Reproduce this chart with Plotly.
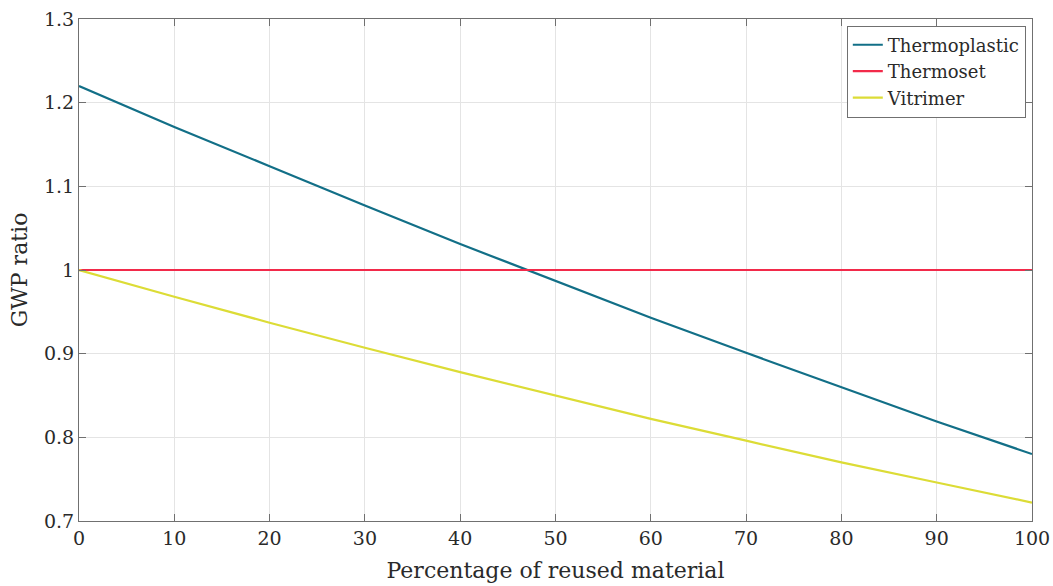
import plotly.graph_objects as go

reuse_pct = [0, 10, 20, 30, 40, 50, 60, 70, 80, 90, 100]
thermoplastic = [1.22, 1.171, 1.124, 1.077, 1.031, 0.987, 0.943, 0.901, 0.860, 0.819, 0.780]
thermoset = [1.0, 1.0, 1.0, 1.0, 1.0, 1.0, 1.0, 1.0, 1.0, 1.0, 1.0]
vitrimer = [1.0, 0.968, 0.937, 0.907, 0.878, 0.850, 0.822, 0.796, 0.770, 0.746, 0.722]

x_ticks = [0, 10, 20, 30, 40, 50, 60, 70, 80, 90, 100]
y_ticks = [0.7, 0.8, 0.9, 1.0, 1.1, 1.2, 1.3]
y_tick_text = ["0.7", "0.8", "0.9", "1", "1.1", "1.2", "1.3"]

FONT = "DejaVu Serif"
TXT = "#2a2a2a"
fig = go.Figure()
fig.add_trace(go.Scatter(x=reuse_pct, y=thermoplastic, mode="lines", name="Thermoplastic",
                         line=dict(color="#126f87", width=2.2)))
fig.add_trace(go.Scatter(x=reuse_pct, y=thermoset, mode="lines", name="Thermoset",
                         line=dict(color="#f22a4a", width=2.2)))
fig.add_trace(go.Scatter(x=reuse_pct, y=vitrimer, mode="lines", name="Vitrimer",
                         line=dict(color="#dcdc36", width=2.2)))

axis_common = dict(
    showline=True, linecolor="#707070", linewidth=1, mirror="ticks",
    ticks="inside", ticklen=7, tickcolor="#707070", tickwidth=1,
    showgrid=True, gridcolor="#e4e4e4", gridwidth=1, zeroline=False,
    automargin=False,
    tickfont=dict(family=FONT, size=19, color=TXT),
)
fig.update_xaxes(range=[0, 100], tickvals=x_ticks, **axis_common,
                 title=dict(text="Percentage of reused material", font=dict(family=FONT, size=22, color=TXT), standoff=14))
fig.update_yaxes(range=[0.7, 1.3], tickvals=y_ticks, ticktext=y_tick_text, **axis_common,
                 title=dict(text="GWP ratio", font=dict(family=FONT, size=22, color=TXT), standoff=10))

fig.update_layout(
    width=1053, height=586,
    margin=dict(l=79, r=21, t=19, b=65, autoexpand=False),
    plot_bgcolor="white", paper_bgcolor="white",
    font=dict(family=FONT, color=TXT),
    legend=dict(x=0.9935, y=0.987, xanchor="right", yanchor="top",
                bgcolor="white", bordercolor="#707070", borderwidth=1,
                font=dict(family=FONT, size=18, color=TXT),
                tracegroupgap=0, itemwidth=30),
    showlegend=True,
)
fig.write_html("out.html")
